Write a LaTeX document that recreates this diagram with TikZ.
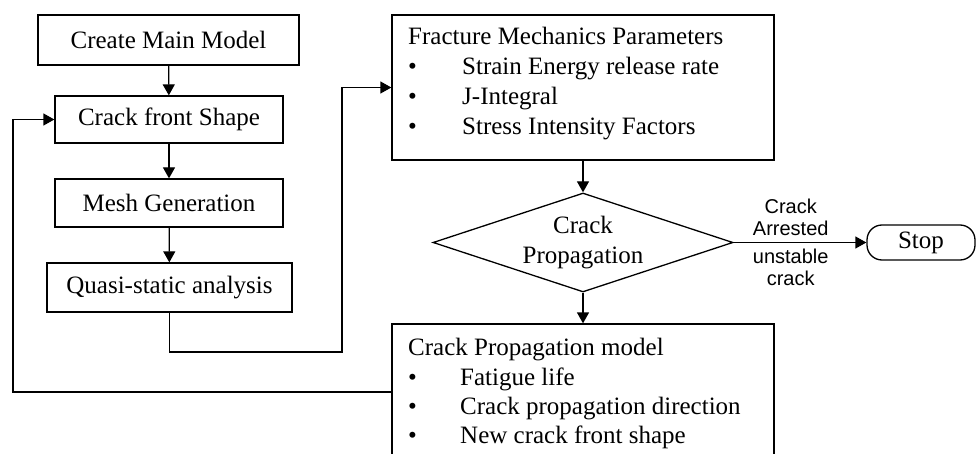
\documentclass[tikz,border=0pt]{standalone}
\usepackage{fontspec}
\setmainfont{Liberation Serif}
\newfontfamily\labelfont{Liberation Sans}
\usetikzlibrary{shapes.geometric,arrows.meta}
\begin{document}
\begin{tikzpicture}[x=1pt,y=-1pt,
  every node/.style={font=\fontsize{25}{30}\selectfont},
  box/.style={draw, line width=1.3pt, inner sep=0pt},
  arr/.style={line width=1.3pt, -{Triangle[length=11pt,width=12pt]}},
  conn/.style={line width=1.3pt},
  txt/.style={anchor=base west, inner sep=0pt},
  lbl/.style={font=\labelfont\fontsize{20}{22}\selectfont, align=center, inner sep=6pt}]
\useasboundingbox (0,0) rectangle (976,454);
\clip (0,0) rectangle (976,454);

% left column
\node[box, minimum width=261pt, minimum height=50pt] (cmm) at (168.5,40) {Create Main Model};
\node[box, minimum width=228pt, minimum height=47pt] (cfs) at (169,119.5) {Crack front Shape};
\node[box, minimum width=228pt, minimum height=48pt] (mg) at (169,203) {Mesh Generation};
\node[box, minimum width=245pt, minimum height=49pt] (qsa) at (169.5,287.5) {Quasi-static analysis};

% fracture mechanics box
\node[box, minimum width=382pt, minimum height=145pt] (fmp) at (583,87.5) {};
\node[txt] (fmp0) at (408,45) {Fracture Mechanics Parameters};
\node[txt] (fmpb1) at (408,75) {\textbullet};
\node[txt] (fmp1) at (462,75) {Strain Energy release rate};
\node[txt] (fmpb2) at (408,105) {\textbullet};
\node[txt] (fmp2) at (462,105) {J-Integral};
\node[txt] (fmpb3) at (408,135) {\textbullet};
\node[txt] (fmp3) at (462,135) {Stress Intensity Factors};

% decision
\node[box, shape=diamond, aspect=3, minimum width=300pt, minimum height=99pt, align=center] (cp) at (583,242.5) {Crack\\Propagation};

% stop
\node[box, rounded corners=15pt, minimum width=108pt, minimum height=35pt] (stop) at (921,242.5) {Stop};

% crack propagation model box
\node[box, minimum width=382pt, minimum height=136pt] (cpm) at (583,392) {};
\node[txt] (cpm0) at (408,355) {Crack Propagation model};
\node[txt] (cpmb1) at (408,385) {\textbullet};
\node[txt] (cpm1) at (460,385) {Fatigue life};
\node[txt] (cpmb2) at (408,414) {\textbullet};
\node[txt] (cpm2) at (460,414) {Crack propagation direction};
\node[txt] (cpmb3) at (408,443) {\textbullet};
\node[txt] (cpm3) at (460,443) {New crack front shape};

% connectors
\draw[arr] (cmm) -- (cfs);
\draw[arr] (cfs) -- (mg);
\draw[arr] (mg) -- (qsa);
\coordinate (c1) at (342,352);
\draw[arr] (qsa.south) |- (c1) |- (fmp.west);
\draw[arr] (fmp) -- (cp);
\draw[arr] (cp) -- (cpm);
\draw[arr] (cp.east) -- node[lbl, above, pos=0.43] {Crack\\Arrested}
                        node[lbl, below, pos=0.43] {unstable\\crack} (stop.west);
\coordinate (c2) at (13,392);
\draw[arr] (cpm.west) -- (c2) |- (cfs.west);
\end{tikzpicture}
\end{document}
